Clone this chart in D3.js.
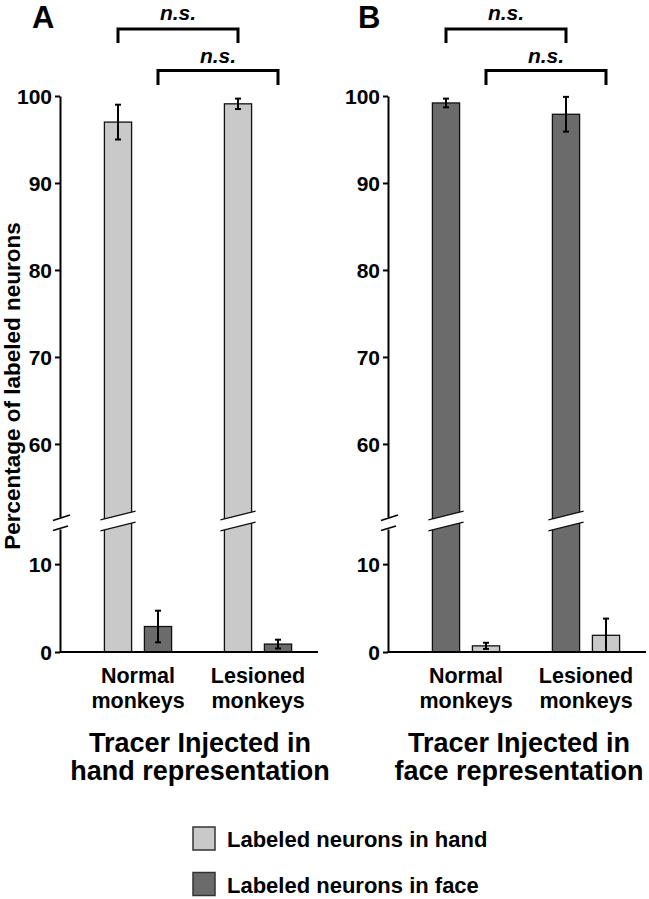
<!DOCTYPE html>
<html>
<head>
<meta charset="utf-8">
<script src="https://cdn.jsdelivr.net/npm/d3@7"></script>
<style>
  html, body { margin: 0; padding: 0; background: #fff; }
  svg text { font-family: "Liberation Sans", Arial, sans-serif; font-weight: bold; fill: #000; }
</style>
</head>
<body>
<svg id="chart" width="649" height="899"></svg>
<script>
// ---------------- data ----------------
const categories = ["Normal monkeys", "Lesioned monkeys"];
const categoryLines = [["Normal", "monkeys"], ["Lesioned", "monkeys"]];
const seriesNames = ["Labeled neurons in hand", "Labeled neurons in face"];

// Panel A: tracer injected in hand representation
const handA = [97.0, 99.1];
const handAErr = [2.0, 0.6];
const faceA = [2.9, 0.9];
const faceAErr = [1.8, 0.5];

// Panel B: tracer injected in face representation
const faceB = [99.2, 97.9];
const faceBErr = [0.5, 2.0];
const handB = [0.7, 1.9];
const handBErr = [0.35, 1.9];

const upperTicks = [60, 70, 80, 90, 100];
const lowerTicks = [0, 10];
const sigLabel = "n.s.";
const panelLetters = ["A", "B"];
const panelTitles = [["Tracer Injected in", "hand representation"], ["Tracer Injected in", "face representation"]];

// ---------------- style / layout ----------------
const colors = { hand: "#c9c9c9", face: "#6b6b6b" };
const svg = d3.select("#chart");

const lowMax = 14, highMin = 51.6;
const yLow = d3.scaleLinear().domain([0, lowMax]).range([652, 529]);
const yHigh = d3.scaleLinear().domain([highMin, 100]).range([517, 96]);
const yOf = v => v > lowMax ? yHigh(v) : yLow(v);

const xGroup = d3.scalePoint().domain(categories).range([78, 198]);

const panels = [
  { axisX: 60, titleX: 200, letterX: 32, order: ["hand", "face"],
    values: { hand: handA, face: faceA }, errs: { hand: handAErr, face: faceAErr } },
  { axisX: 388, titleX: 519, letterX: 358, order: ["face", "hand"],
    values: { hand: handB, face: faceB }, errs: { hand: handBErr, face: faceBErr } }
];

panels.forEach((p, pi) => {
  const g = svg.append("g").attr("transform", `translate(${p.axisX},0)`);
  const xInner = d3.scaleBand().domain(p.order).range([-40, 40]).paddingInner(0.32).paddingOuter(0.16);
  const bw = xInner.bandwidth();

  // bars
  const bars = [];
  p.order.forEach(s => {
    categories.forEach((c, i) => {
      bars.push({ s, c, v: p.values[s][i], e: p.errs[s][i], x: xGroup(c) + xInner(s) });
    });
  });

  g.selectAll("rect.bar").data(bars).enter().append("rect")
    .attr("class", "bar")
    .attr("x", d => d.x)
    .attr("width", bw)
    .attr("y", d => yOf(d.v))
    .attr("height", d => yLow(0) - yOf(d.v))
    .attr("fill", d => colors[d.s])
    .attr("stroke", "#111")
    .attr("stroke-width", 1.3);

  // break gaps on tall bars
  const breakC = (yLow(lowMax) + yHigh(highMin)) / 2 - 2;
  const slope = 0.25, half = 5.5, ext = 4;
  bars.filter(d => d.v > lowMax).forEach(d => {
    const cx = d.x + bw / 2;
    const x0 = d.x - ext, x1 = d.x + bw + ext;
    const yc = x => breakC - slope * (x - cx);
    g.append("polygon")
      .attr("points", [[x0, yc(x0) - half], [x1, yc(x1) - half], [x1, yc(x1) + half], [x0, yc(x0) + half]].map(q => q.join(",")).join(" "))
      .attr("fill", "#fff");
    [-half, half].forEach(o => {
      g.append("line").attr("x1", x0).attr("y1", yc(x0) + o).attr("x2", x1).attr("y2", yc(x1) + o)
        .attr("stroke", "#111").attr("stroke-width", 1.4);
    });
  });

  // error bars
  const eb = g.selectAll("g.err").data(bars).enter().append("g").attr("class", "err")
    .attr("stroke", "#000").attr("stroke-width", 2);
  eb.append("line")
    .attr("x1", d => d.x + bw / 2).attr("x2", d => d.x + bw / 2)
    .attr("y1", d => yOf(d.v + d.e)).attr("y2", d => yOf(Math.max(0, d.v - d.e)));
  eb.append("line")
    .attr("x1", d => d.x + bw / 2 - 3).attr("x2", d => d.x + bw / 2 + 3)
    .attr("y1", d => yOf(d.v + d.e)).attr("y2", d => yOf(d.v + d.e));
  eb.filter(d => d.v - d.e > 0).append("line")
    .attr("x1", d => d.x + bw / 2 - 3).attr("x2", d => d.x + bw / 2 + 3)
    .attr("y1", d => yOf(d.v - d.e)).attr("y2", d => yOf(d.v - d.e));

  // axes
  const axU = g.append("g").call(d3.axisLeft(yHigh).tickValues(upperTicks).tickSizeInner(5).tickSizeOuter(0).tickPadding(3));
  const axL = g.append("g").call(d3.axisLeft(yLow).tickValues(lowerTicks).tickSizeInner(5).tickSizeOuter(0).tickPadding(3));
  [axU, axL].forEach(ax => {
    ax.select(".domain").attr("stroke", "#000").attr("stroke-width", 2);
    ax.selectAll(".tick line").attr("stroke", "#000").attr("stroke-width", 2);
    ax.selectAll(".tick text").attr("font-size", 21).attr("font-weight", "bold")
      .attr("font-family", '"Liberation Sans", Arial, sans-serif').attr("fill", "#000").attr("dy", "0.36em");
  });
  // axis break marks
  g.append("line").attr("x1", -7).attr("y1", yHigh(highMin) + 3.5).attr("x2", 10).attr("y2", yHigh(highMin) - 2)
    .attr("stroke", "#000").attr("stroke-width", 1.5);
  g.append("line").attr("x1", -7).attr("y1", yLow(lowMax) + 1.5).attr("x2", 8).attr("y2", yLow(lowMax) - 3)
    .attr("stroke", "#000").attr("stroke-width", 1.5);

  // baseline
  g.append("line").attr("x1", 0).attr("x2", 258).attr("y1", yLow(0)).attr("y2", yLow(0))
    .attr("stroke", "#000").attr("stroke-width", 2);

  // category labels
  categories.forEach((c, i) => {
    const t = g.append("text").attr("text-anchor", "middle").attr("font-size", 21.5);
    categoryLines[i].forEach((line, li) => {
      t.append("tspan").attr("x", xGroup(c)).attr("y", 683 + li * 25).text(line);
    });
  });

  // significance brackets
  const bracketY = [[29, 43], [70.5, 85]];
  const textY = [20, 63];
  p.order.forEach((s, si) => {
    const xa = xGroup(categories[0]) + xInner(s) + bw / 2;
    const xb = xGroup(categories[1]) + xInner(s) + bw / 2;
    const [yh, yl] = bracketY[si];
    g.append("path").attr("d", `M${xa},${yl}V${yh}H${xb}V${yl}`)
      .attr("fill", "none").attr("stroke", "#000").attr("stroke-width", 3);
    g.append("text").attr("x", (xa + xb) / 2).attr("y", textY[si]).attr("text-anchor", "middle")
      .attr("font-size", 21).attr("font-style", "italic").text(sigLabel);
  });

  // panel letter
  svg.append("text").attr("x", p.letterX).attr("y", 28).attr("font-size", 31).text(panelLetters[pi]);

  // panel title
  const tt = svg.append("text").attr("text-anchor", "middle").attr("font-size", 27);
  panelTitles[pi].forEach((line, li) => {
    tt.append("tspan").attr("x", p.titleX).attr("y", 752 + li * 28).text(line);
  });
});

// y-axis label
svg.append("text").attr("transform", "translate(20,386) rotate(-90)")
  .attr("text-anchor", "middle").attr("font-size", 22.5).text("Percentage of labeled neurons");

// legend
const legendKeys = ["hand", "face"];
const lg = svg.append("g").selectAll("g").data(legendKeys).enter().append("g")
  .attr("transform", (d, i) => `translate(193,${827 + i * 45.5})`);
lg.append("rect").attr("width", 22).attr("height", 23).attr("fill", d => colors[d])
  .attr("stroke", "#333").attr("stroke-width", 1.5);
lg.append("text").attr("x", 34).attr("y", 20).attr("font-size", 22).text((d, i) => seriesNames[i]);
</script>
</body>
</html>
